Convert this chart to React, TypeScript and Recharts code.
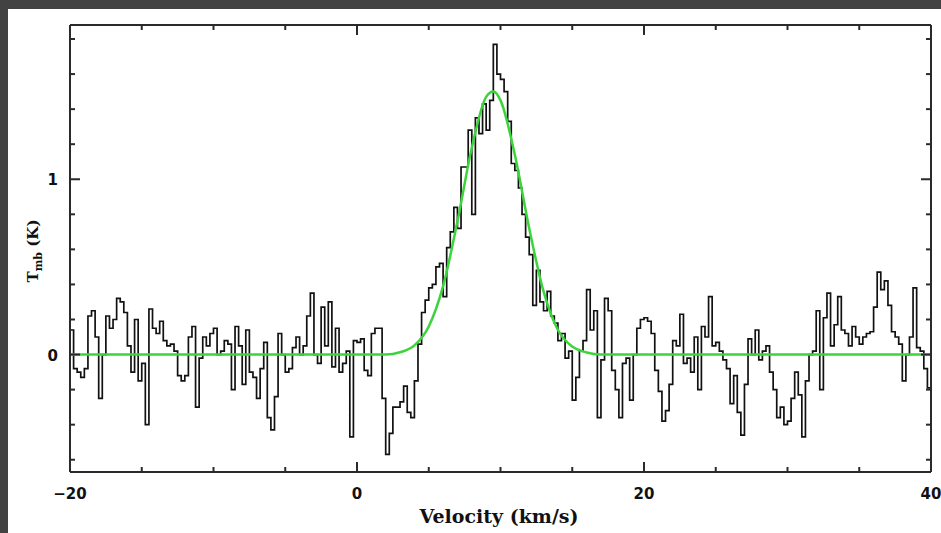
import React from "react";
import { LineChart, Line, XAxis, YAxis } from "recharts";

// spectrum: channel start velocity + width, brightness per channel (K)
const VEL_START = -20;
const CHAN_WIDTH = 0.25;
const SPEC_T = [
  0.14, -0.08, -0.1, -0.13, -0.08, 0.22, 0.25, 0.1, -0.25, 0.0, 0.22, 0.15, 0.2, 0.32, 0.3, 0.24, 0.05, -0.1, 0.2, -0.15,
  -0.05, -0.4, 0.26, 0.15, 0.12, 0.19, 0.08, 0.05, 0.06, 0.02, -0.12, -0.15, -0.12, 0.1, 0.16, -0.3, -0.02, 0.1, 0.05, 0.12,
  0.15, 0.0, 0.02, 0.08, 0.06, -0.2, 0.16, 0.05, -0.17, 0.14, -0.1, -0.13, -0.25, -0.08, 0.07, -0.36, -0.43, -0.24, 0.12, 0.0,
  -0.1, -0.08, 0.04, 0.1, 0.0, 0.05, 0.22, 0.35, 0.0, -0.05, 0.27, 0.05, 0.3, -0.07, 0.15, -0.1, -0.05, 0.02, -0.47, 0.08,
  0.07, 0.09, -0.09, -0.12, 0.12, 0.15, 0.15, -0.25, -0.57, -0.45, -0.3, -0.3, -0.27, -0.18, -0.33, -0.36, -0.15, 0.06, 0.24, 0.31,
  0.38, 0.4, 0.5, 0.52, 0.33, 0.61, 0.7, 0.84, 0.72, 1.07, 1.07, 1.28, 0.8, 1.35, 1.26, 1.43, 1.28, 1.45, 1.77, 1.6,
  1.57, 1.5, 1.33, 1.09, 1.05, 0.95, 0.8, 0.67, 0.57, 0.28, 0.48, 0.3, 0.25, 0.36, 0.22, 0.18, 0.08, 0.12, -0.02, 0.02,
  -0.26, -0.13, 0.02, 0.08, 0.37, 0.14, 0.25, -0.36, -0.03, 0.32, 0.25, -0.09, -0.2, -0.36, -0.05, -0.02, -0.26, 0.0, 0.15, 0.2,
  0.21, 0.19, 0.12, -0.09, -0.21, -0.38, -0.32, -0.17, 0.08, 0.05, 0.23, -0.05, -0.02, -0.1, 0.1, -0.2, 0.16, 0.1, 0.33, 0.05,
  0.07, 0.02, -0.03, -0.08, -0.28, -0.12, -0.33, -0.46, -0.17, 0.09, 0.0, 0.14, -0.03, 0.02, 0.05, -0.1, -0.2, -0.36, -0.3, -0.4,
  -0.38, -0.25, -0.1, -0.23, -0.47, -0.15, 0.0, 0.02, 0.25, -0.2, 0.21, 0.35, 0.05, 0.17, 0.33, 0.14, 0.12, 0.05, 0.16, 0.1,
  0.06, 0.1, 0.12, 0.13, 0.27, 0.47, 0.37, 0.42, 0.28, 0.13, 0.1, 0.06, -0.15, 0.0, 0.1, 0.38, 0.04, 0.02, -0.08, -0.19,
];

// gaussian fit
const FIT_VEL = [-20, 2, 3, 4, 5, 6, 7, 8, 9, 9.5, 10, 11, 12, 13, 14, 15, 16, 17, 40];
const FIT_T = [0, 0, 0.013, 0.052, 0.16, 0.39, 0.76, 1.18, 1.47, 1.5, 1.45, 1.14, 0.72, 0.36, 0.14, 0.046, 0.012, 0, 0];

const X_TICKS = [-20, -15, -10, -5, 0, 5, 10, 15, 20, 25, 30, 35, 40];
const X_LABELED = [-20, 0, 20, 40];
const Y_TICKS = [-0.6, -0.4, -0.2, 0, 0.2, 0.4, 0.6, 0.8, 1, 1.2, 1.4, 1.6, 1.8];
const Y_LABELED = [0, 1];

const specData = SPEC_T.map((t, i) => ({ v: VEL_START + i * CHAN_WIDTH, t }));
specData.push({ v: 40, t: SPEC_T[SPEC_T.length - 1] });
const fitData = FIT_VEL.map((v, i) => ({ v, t: FIT_T[i] }));

const AXIS_COLOR = "#2a2a2a";
const NUM_FONT = "'DejaVu Sans', sans-serif";
const LABEL_FONT = "'DejaVu Serif', serif";

const fmtX = (v: number) => (v < 0 ? "\u2212" + Math.abs(v) : String(v));

function makeTick(side: "bottom" | "top" | "left" | "right", labeled: number[]) {
  return (props: any) => {
    const { x, y, payload } = props;
    const val = payload.value;
    const major = labeled.some((m) => Math.abs(m - val) < 1e-6);
    const len = major ? 10 : 5;
    let line;
    if (side === "bottom") line = <line x1={x} y1={y} x2={x} y2={y - len} />;
    else if (side === "top") line = <line x1={x} y1={y} x2={x} y2={y + len} />;
    else if (side === "left") line = <line x1={x} y1={y} x2={x + len} y2={y} />;
    else line = <line x1={x} y1={y} x2={x - len} y2={y} />;
    return (
      <g stroke={AXIS_COLOR} strokeWidth={2}>
        {line}
        {side === "bottom" && major && (
          <text x={x} y={y + 27} textAnchor="middle" fill="#111" stroke="none"
            fontFamily={NUM_FONT} fontWeight="bold" fontSize={15}>
            {fmtX(val)}
          </text>
        )}
        {side === "left" && major && (
          <text x={x - 12} y={y + 6} textAnchor="end" fill="#111" stroke="none"
            fontFamily={NUM_FONT} fontWeight="bold" fontSize={15}>
            {val}
          </text>
        )}
      </g>
    );
  };
}

export default function App() {
  return (
    <div style={{ position: "fixed", left: 0, top: 0, width: 941, height: 533, background: "#424242" }}>
      <div style={{ position: "absolute", left: 8, top: 9, width: 933, height: 524, background: "#fff" }}>
        <LineChart
          width={933}
          height={524}
          margin={{ top: 15, right: 9, bottom: 31, left: 0 }}
        >
          <XAxis
            xAxisId="b"
            type="number"
            dataKey="v"
            domain={[-20, 40]}
            ticks={X_TICKS}
            allowDataOverflow
            tickSize={0}
            tickMargin={0}
            height={30}
            axisLine={{ stroke: AXIS_COLOR, strokeWidth: 2 }}
            tick={makeTick("bottom", X_LABELED)}
          />
          <XAxis
            xAxisId="t"
            orientation="top"
            type="number"
            dataKey="v"
            domain={[-20, 40]}
            ticks={X_TICKS}
            allowDataOverflow
            tickSize={0}
            tickMargin={0}
            height={1}
            axisLine={{ stroke: AXIS_COLOR, strokeWidth: 2 }}
            tick={makeTick("top", X_LABELED)}
          />
          <YAxis
            yAxisId="l"
            type="number"
            domain={[-0.67, 1.88]}
            ticks={Y_TICKS}
            allowDataOverflow
            tickSize={0}
            tickMargin={0}
            width={62}
            axisLine={{ stroke: AXIS_COLOR, strokeWidth: 2 }}
            tick={makeTick("left", Y_LABELED)}
          />
          <YAxis
            yAxisId="r"
            orientation="right"
            type="number"
            domain={[-0.67, 1.88]}
            ticks={Y_TICKS}
            allowDataOverflow
            tickSize={0}
            tickMargin={0}
            width={1}
            axisLine={{ stroke: AXIS_COLOR, strokeWidth: 2 }}
            tick={makeTick("right", Y_LABELED)}
          />
          <Line
            xAxisId="b"
            yAxisId="l"
            data={specData}
            dataKey="t"
            type="stepAfter"
            stroke="#111"
            strokeWidth={1.7}
            dot={false}
            isAnimationActive={false}
          />
          <Line
            xAxisId="b"
            yAxisId="l"
            data={fitData}
            dataKey="t"
            type="monotone"
            stroke="#3bd43b"
            strokeWidth={2.5}
            dot={false}
            isAnimationActive={false}
          />
        </LineChart>
        <svg width={933} height={524} style={{ position: "absolute", left: 0, top: 0, pointerEvents: "none" }}>
          <text x={491} y={514} textAnchor="middle" fontFamily={LABEL_FONT} fontWeight="bold" fontSize={19} fill="#111">
            Velocity (km/s)
          </text>
          <text transform="translate(30,242) rotate(-90)" textAnchor="middle" fontFamily={LABEL_FONT}
            fontWeight="bold" fontSize={15} fill="#111">
            T<tspan fontSize={11} dy={4}>mb</tspan>
            <tspan dy={-4}> (K)</tspan>
          </text>
        </svg>
      </div>
    </div>
  );
}
